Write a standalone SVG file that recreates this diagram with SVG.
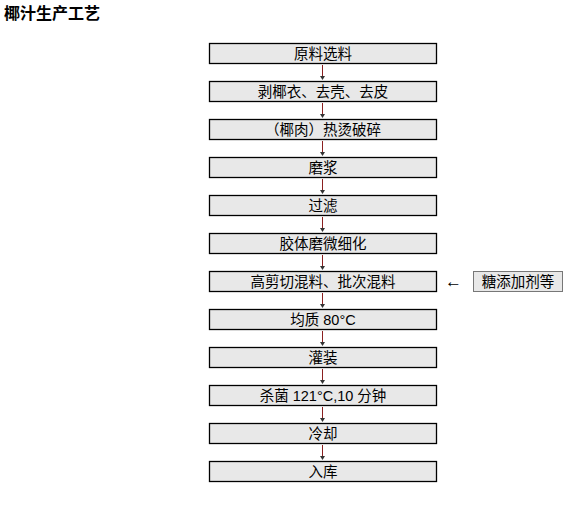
<svg xmlns="http://www.w3.org/2000/svg" width="588" height="505" viewBox="0 0 588 505">
<style>
.box rect{fill:#e8e8e8;stroke:#000;stroke-width:1.3}
text{font-family:"Liberation Sans","Noto Sans CJK SC",sans-serif;font-size:14.5px;fill:#000}
.lbl{text-anchor:middle}
.ar line{stroke:#8b2020;stroke-width:1}
.ar path{fill:#333}
</style>
<rect width="588" height="505" fill="#fff"/>
<text x="4" y="19" style="font-weight:bold;font-size:16px">椰汁生产工艺</text>
<g id="n1" class="box"><rect x="209.5" y="43.5" width="227" height="20"/><text class="lbl" x="323" y="59">原料选料</text></g>
<g id="n2" class="box"><rect x="209.5" y="81.5" width="227" height="20"/><text class="lbl" x="323" y="97">剥椰衣、去壳、去皮</text></g>
<g id="n3" class="box"><rect x="209.5" y="119.5" width="227" height="20"/><text class="lbl" x="323" y="135">（椰肉）热烫破碎</text></g>
<g id="n4" class="box"><rect x="209.5" y="157.5" width="227" height="20"/><text class="lbl" x="323" y="173">磨浆</text></g>
<g id="n5" class="box"><rect x="209.5" y="195.5" width="227" height="20"/><text class="lbl" x="323" y="211">过滤</text></g>
<g id="n6" class="box"><rect x="209.5" y="233.5" width="227" height="20"/><text class="lbl" x="323" y="249">胶体磨微细化</text></g>
<g id="n7" class="box"><rect x="209.5" y="271.5" width="227" height="20"/><text class="lbl" x="323" y="287">高剪切混料、批次混料</text></g>
<g id="n8" class="box"><rect x="209.5" y="309.5" width="227" height="20"/><text class="lbl" x="323" y="325">均质 80°C</text></g>
<g id="n9" class="box"><rect x="209.5" y="347.5" width="227" height="20"/><text class="lbl" x="323" y="363">灌装</text></g>
<g id="n10" class="box"><rect x="209.5" y="385.5" width="227" height="20"/><text class="lbl" x="323" y="401">杀菌 121°C,10 分钟</text></g>
<g id="n11" class="box"><rect x="209.5" y="423.5" width="227" height="20"/><text class="lbl" x="323" y="439">冷却</text></g>
<g id="n12" class="box"><rect x="209.5" y="461.5" width="227" height="20"/><text class="lbl" x="323" y="477">入库</text></g>
<g id="side"><rect x="473.5" y="271.5" width="89" height="20" fill="#e8e8e8" stroke="#777" stroke-width="1"/><text class="lbl" x="518" y="287">糖添加剂等</text></g>
<g id="connectors" class="ar">
<line x1="322.5" y1="65" x2="322.5" y2="79"/><path d="M320 76 L325 76 L322.5 80 Z"/>
<line x1="322.5" y1="103" x2="322.5" y2="117"/><path d="M320 114 L325 114 L322.5 118 Z"/>
<line x1="322.5" y1="141" x2="322.5" y2="155"/><path d="M320 152 L325 152 L322.5 156 Z"/>
<line x1="322.5" y1="179" x2="322.5" y2="193"/><path d="M320 190 L325 190 L322.5 194 Z"/>
<line x1="322.5" y1="217" x2="322.5" y2="231"/><path d="M320 228 L325 228 L322.5 232 Z"/>
<line x1="322.5" y1="255" x2="322.5" y2="269"/><path d="M320 266 L325 266 L322.5 270 Z"/>
<line x1="322.5" y1="293" x2="322.5" y2="307"/><path d="M320 304 L325 304 L322.5 308 Z"/>
<line x1="322.5" y1="331" x2="322.5" y2="345"/><path d="M320 342 L325 342 L322.5 346 Z"/>
<line x1="322.5" y1="369" x2="322.5" y2="383"/><path d="M320 380 L325 380 L322.5 384 Z"/>
<line x1="322.5" y1="407" x2="322.5" y2="421"/><path d="M320 418 L325 418 L322.5 422 Z"/>
<line x1="322.5" y1="445" x2="322.5" y2="459"/><path d="M320 456 L325 456 L322.5 460 Z"/>
<text x="445" y="287" style="font-size:17px">←</text>
</g>
</svg>
